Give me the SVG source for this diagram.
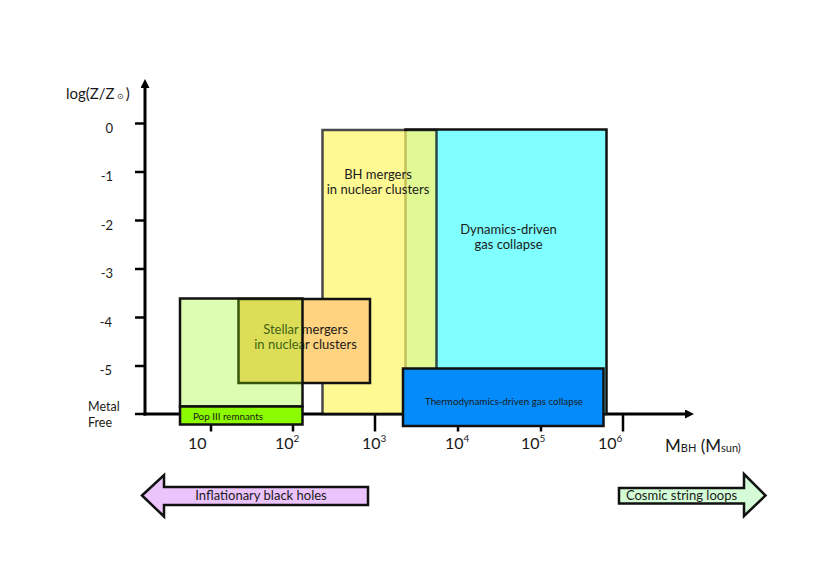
<svg xmlns="http://www.w3.org/2000/svg" width="830" height="587" viewBox="0 0 830 587">
<style>
  .t{font-family:Lato,"Liberation Sans",sans-serif;fill:#1a1a1a}
  .ylab{font-size:13px;text-anchor:end}
  .xlab{font-size:16px}
  .sup{font-size:10px}
  .lab{font-size:13px;text-anchor:middle}
  .box{stroke:#111;stroke-width:2.5}
  .axis{stroke:#000;stroke-width:3;fill:none}
  .tick{stroke:#000;stroke-width:2.5;fill:none}
</style>
<defs>
  <marker id="ah" viewBox="0 0 10 10" refX="0" refY="5" markerWidth="9" markerHeight="9" markerUnits="userSpaceOnUse" orient="auto">
    <path d="M0,0 L10,5 L0,10 z" fill="#000"/>
  </marker>
</defs>
<rect width="830" height="587" fill="#fff"/>

<g id="axes">
  <line class="axis" x1="145" y1="415.5" x2="145" y2="88" marker-end="url(#ah)"/>
  <line class="axis" x1="143.5" y1="414" x2="685" y2="414" marker-end="url(#ah)"/>
  <g class="tick">
    <line x1="135" y1="123.5" x2="145" y2="123.5"/>
    <line x1="135" y1="172" x2="145" y2="172"/>
    <line x1="135" y1="220.5" x2="145" y2="220.5"/>
    <line x1="135" y1="269" x2="145" y2="269"/>
    <line x1="135" y1="317.5" x2="145" y2="317.5"/>
    <line x1="135" y1="366" x2="145" y2="366"/>
    <line x1="135" y1="414" x2="145" y2="414"/>
    <line x1="211" y1="414" x2="211" y2="431.5"/>
    <line x1="293" y1="414" x2="293" y2="431.5"/>
    <line x1="375" y1="414" x2="375" y2="431.5"/>
    <line x1="458" y1="414" x2="458" y2="431.5"/>
    <line x1="541" y1="414" x2="541" y2="431.5"/>
    <line x1="623" y1="414" x2="623" y2="431.5"/>
  </g>
  <text class="t" x="66" y="99" font-size="15">log(Z/Z<tspan font-size="8"> ⊙ </tspan>)</text>
  <text class="t ylab" x="113" y="132.5">0</text>
  <text class="t ylab" x="113" y="181">-1</text>
  <text class="t ylab" x="113" y="229.5">-2</text>
  <text class="t ylab" x="113" y="278">-3</text>
  <text class="t ylab" x="112" y="326.5">-4</text>
  <text class="t ylab" x="112" y="375">-5</text>
  <text class="t" x="88" y="411" font-size="12.5">Metal</text>
  <text class="t" x="88" y="427" font-size="12.5">Free</text>
  <text class="t xlab" x="188" y="448.5">10</text>
  <text class="t xlab" x="275" y="448.5">10<tspan class="sup" dy="-7">2</tspan></text>
  <text class="t xlab" x="362" y="448.5">10<tspan class="sup" dy="-7">3</tspan></text>
  <text class="t xlab" x="445" y="448.5">10<tspan class="sup" dy="-7">4</tspan></text>
  <text class="t xlab" x="521" y="448.5">10<tspan class="sup" dy="-7">5</tspan></text>
  <text class="t xlab" x="598" y="448.5">10<tspan class="sup" dy="-7">6</tspan></text>
  <text class="t" x="665" y="452" font-size="17">M<tspan font-size="11">BH</tspan> (M<tspan font-size="11">sun)</tspan></text>
</g>

<g id="dynamics-driven">
  <rect class="box" x="405.5" y="129.5" width="201" height="284.5" fill="#7fffff"/>
  <text class="t lab" x="508.5" y="234">Dynamics-driven</text>
  <text class="t lab" x="508.5" y="248.5">gas collapse</text>
</g>

<g id="bh-mergers">
  <rect class="box" x="322.5" y="130" width="114" height="284" fill="#fff873" opacity="0.76"/>
  <text class="t lab" x="378" y="179">BH mergers</text>
  <text class="t lab" x="378" y="194">in nuclear clusters</text>
</g>

<g id="stellar-mergers">
  <rect class="box" x="238.5" y="299" width="131.5" height="84" fill="#ffd37f"/>
  <text class="t lab" x="305.5" y="334">Stellar mergers</text>
  <text class="t lab" x="305.5" y="349">in nuclear clusters</text>
</g>

<g id="pop3">
  <rect class="box" x="180" y="298.5" width="122.5" height="108" fill="#8cfa00" fill-opacity="0.3"/>
  <rect class="box" x="180" y="406.5" width="122.5" height="18" fill="#8cfa00"/>
  <text class="t" x="193" y="419.5" font-size="9.8">Pop III remnants</text>
</g>

<g id="thermodynamics-driven">
  <rect class="box" x="403" y="368.5" width="200.5" height="57.5" fill="#058cfa"/>
  <text class="t" x="504" y="405" font-size="9.8" text-anchor="middle">Thermodynamics-driven gas collapse</text>
</g>

<g id="inflationary">
  <polygon class="box" points="142,495.5 164,475 164,487 368,487 368,505 164,505 164,516.5" fill="#ecc4fc"/>
  <text class="t lab" x="261" y="500">Inflationary black holes</text>
</g>

<g id="cosmic-strings">
  <polygon class="box" points="619,488 744,488 744,474 765.5,495.5 744,516 744,503.5 619,503.5" fill="#d4fcd6"/>
  <text class="t lab" x="681.5" y="499.5" font-size="12.5">Cosmic string loops</text>
</g>
</svg>
